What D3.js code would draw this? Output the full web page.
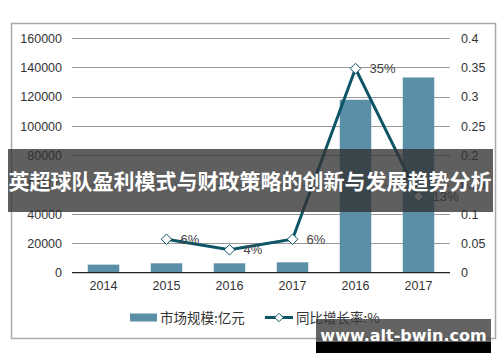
<!DOCTYPE html>
<html>
<head>
  <meta charset="utf-8">
  <title>Chart</title>
  <script src="https://cdn.jsdelivr.net/npm/d3@7"></script>
  <style>
    body { margin: 0; background: #fff; }
    svg { display: block; font-family: "Liberation Sans", Arial, "Noto Sans CJK SC", sans-serif; }
  </style>
</head>
<body>
<svg id="chart" width="500" height="362"></svg>
<script>
  // chart data
  var years = ['2014', '2015', '2016', '2017', '2016', '2017'];
  var marketSize = [5500, 6400, 6400, 7100, 117900, 133100];
  var growthRate = [null, 0.057, 0.039, 0.057, 0.348, 0.13];
  var growthLabels = ['', '6%', '4%', '6%', '35%', '13%'];
  var leftTicks = [0, 20000, 40000, 60000, 80000, 100000, 120000, 140000, 160000];
  var rightTicks = [0, 0.05, 0.1, 0.15, 0.2, 0.25, 0.3, 0.35, 0.4];

  var barColor = '#5b8fa7';
  var lineColor = '#0d5466';

  var svg = d3.select('#chart');
  var plotLeft = 72, plotRight = 450, plotTop = 38, plotBottom = 272.7;

  // outer frame
  svg.append('rect')
    .attr('x', 11.5).attr('y', 23.5)
    .attr('width', 484).attr('height', 315)
    .attr('fill', 'none').attr('stroke', '#aaa').attr('stroke-width', 1.5);

  var x = d3.scaleBand().domain(d3.range(years.length)).range([plotLeft, plotRight]).paddingInner(0.5).paddingOuter(0.25);
  var yL = d3.scaleLinear().domain([0, 160000]).range([plotBottom, plotTop]);
  var yR = d3.scaleLinear().domain([0, 0.4]).range([plotBottom, plotTop]);

  // grid
  svg.append('g').selectAll('line')
    .data(leftTicks.slice(1))
    .enter().append('line')
    .attr('x1', plotLeft).attr('x2', plotRight)
    .attr('y1', function(d) { return Math.round(yL(d)) + 0.5; })
    .attr('y2', function(d) { return Math.round(yL(d)) + 0.5; })
    .attr('stroke', '#9a9a9a').attr('stroke-width', 1);

  // left axis labels
  var axL = svg.append('g').attr('transform', 'translate(' + (plotLeft - 10) + ',0)')
    .call(d3.axisLeft(yL).tickValues(leftTicks).tickSize(0).tickPadding(0).tickFormat(d3.format('d')));
  axL.select('.domain').remove();
  axL.selectAll('text').attr('font-size', 12.5).attr('fill', '#333')
    .attr('font-family', '"Liberation Sans", Arial, sans-serif');

  // right axis labels
  var axR = svg.append('g').attr('transform', 'translate(' + (plotRight + 11) + ',0)')
    .call(d3.axisRight(yR).tickValues(rightTicks).tickSize(0).tickPadding(0).tickFormat(function(d) { return d === 0 ? '0' : String(+d.toFixed(2)); }));
  axR.select('.domain').remove();
  axR.selectAll('text').attr('font-size', 12.5).attr('fill', '#333')
    .attr('font-family', '"Liberation Sans", Arial, sans-serif');

  // bars
  svg.append('g').selectAll('rect')
    .data(marketSize)
    .enter().append('rect')
    .attr('x', function(d, i) { return x(i); })
    .attr('width', x.bandwidth())
    .attr('y', function(d) { return yL(d); })
    .attr('height', function(d) { return plotBottom - yL(d); })
    .attr('fill', barColor);

  // baseline
  svg.append('line')
    .attr('x1', plotLeft).attr('x2', plotRight)
    .attr('y1', plotBottom).attr('y2', plotBottom)
    .attr('stroke', '#222').attr('stroke-width', 1.2);

  // x axis labels
  var axX = svg.append('g').attr('transform', 'translate(0,' + plotBottom + ')')
    .call(d3.axisBottom(x).tickSize(0).tickPadding(8).tickFormat(function(i) { return years[i]; }));
  axX.select('.domain').remove();
  axX.selectAll('text').attr('font-size', 12.5).attr('fill', '#333')
    .attr('font-family', '"Liberation Sans", Arial, sans-serif');

  // growth line
  var pts = growthRate.map(function(v, i) { return {i: i, v: v, label: growthLabels[i]}; })
    .filter(function(d) { return d.v !== null; });
  var cx = function(d) { return x(d.i) + x.bandwidth() / 2; };

  svg.append('path')
    .datum(pts)
    .attr('fill', 'none')
    .attr('stroke', lineColor)
    .attr('stroke-width', 3)
    .attr('d', d3.line().x(cx).y(function(d) { return yR(d.v); }));

  svg.append('g').selectAll('path')
    .data(pts)
    .enter().append('path')
    .attr('d', d3.symbol().type(d3.symbolDiamond2).size(70))
    .attr('transform', function(d) { return 'translate(' + cx(d) + ',' + yR(d.v) + ')'; })
    .attr('fill', '#fff').attr('stroke', lineColor).attr('stroke-width', 1);

  svg.append('g').selectAll('text')
    .data(pts)
    .enter().append('text')
    .attr('x', function(d) { return cx(d) + 14; })
    .attr('y', function(d) { return yR(d.v) + 4.5; })
    .attr('font-size', 13).attr('fill', '#444')
    .text(function(d) { return d.label; });

  // legend
  var lg = svg.append('g').attr('font-size', 13.5).attr('fill', '#333')
    .attr('font-family', '"Noto Sans CJK SC", sans-serif');
  lg.append('rect').attr('x', 130).attr('y', 313.5).attr('width', 27).attr('height', 8).attr('fill', barColor);
  lg.append('text').attr('x', 160).attr('y', 322.5).text('市场规模:亿元');
  lg.append('line').attr('x1', 265).attr('x2', 293).attr('y1', 317.5).attr('y2', 317.5)
    .attr('stroke', lineColor).attr('stroke-width', 3);
  lg.append('path').attr('d', d3.symbol().type(d3.symbolDiamond2).size(45))
    .attr('transform', 'translate(279,317.5)')
    .attr('fill', '#fff').attr('stroke', lineColor).attr('stroke-width', 1);
  lg.append('text').attr('x', 296).attr('y', 322.5).text('同比增长率:%');

  // title banner
  svg.append('rect').attr('x', 8).attr('y', 149).attr('width', 485).attr('height', 63)
    .attr('fill', 'rgb(50,50,50)').attr('fill-opacity', 0.78);
  svg.append('text').attr('x', 250).attr('y', 189)
    .attr('text-anchor', 'middle')
    .attr('font-family', '"Noto Sans CJK SC", sans-serif')
    .attr('font-weight', 'bold').attr('font-size', 21).attr('fill', '#fff')
    .text('英超球队盈利模式与财政策略的创新与发展趋势分析');

  // watermark
  svg.append('rect').attr('x', 316).attr('y', 319).attr('width', 175).attr('height', 23)
    .attr('fill', 'rgb(60,60,60)').attr('fill-opacity', 0.8);
  svg.append('rect').attr('x', 316).attr('y', 342).attr('width', 175).attr('height', 11)
    .attr('fill', '#000');
  svg.append('text').attr('x', 403.5).attr('y', 341)
    .attr('text-anchor', 'middle')
    .attr('font-family', '"DejaVu Sans", sans-serif')
    .attr('font-weight', 'bold').attr('font-size', 16).attr('fill', '#fff')
    .text('www.alt-bwin.com');
</script>
</body>
</html>
